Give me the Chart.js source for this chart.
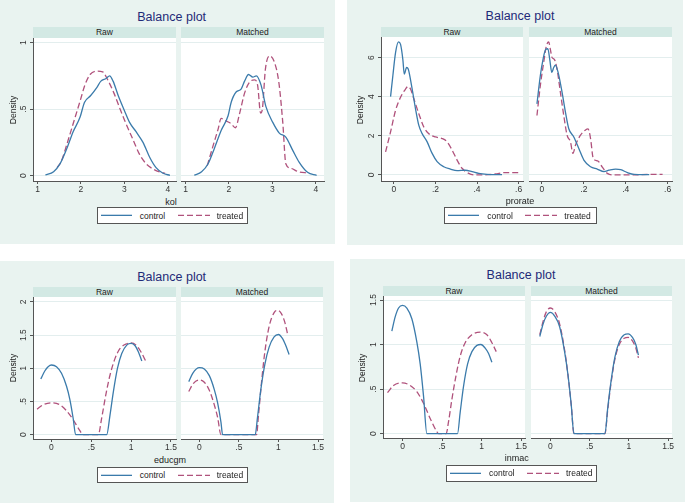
<!DOCTYPE html>
<html><head><meta charset="utf-8">
<script src="https://cdn.jsdelivr.net/npm/chart.js@4.4.0/dist/chart.umd.min.js"></script>
<style>
body{margin:0;width:685px;height:504px;background:#fff;position:relative;overflow:hidden;font-family:"Liberation Sans",Arial,sans-serif;}
.panel{position:absolute;background:#e9f3f0;}
.strip{position:absolute;background:#d3e9e4;color:#222;font-size:8.5px;text-align:center;}
.title{position:absolute;color:#1f2a78;font-size:12.5px;line-height:14px;text-align:center;width:200px;}
.xt{position:absolute;color:#222;font-size:9px;line-height:10px;text-align:center;width:100px;}
.dens{position:absolute;color:#222;font-size:8.5px;line-height:10px;text-align:center;width:60px;height:10px;transform:rotate(-90deg);}
.legend{position:absolute;background:#fff;border:1px solid #555;box-sizing:border-box;}
.legend span{position:absolute;font-size:8.5px;color:#222;}
.legend svg{position:absolute;left:0;top:0;}
</style>
</head><body>
<script>
// ---------- data ----------
const seriesNames = ['control', 'treated'];
const subplotNames = ['Raw', 'Matched'];

// kol
const kolTicksX = [1, 2, 3, 4];
const kolTickLabelsX = ['1', '2', '3', '4'];
const kolTicksY = [0, 0.5, 1];
const kolTickLabelsY = ['0', '.5', '1'];
const kolRawControl = [[1.18,0.005],[1.37,0.03],[1.52,0.09],[1.67,0.20],[1.82,0.33],[1.98,0.44],[2.08,0.55],[2.22,0.60],[2.36,0.66],[2.46,0.71],[2.58,0.73],[2.66,0.75],[2.74,0.71],[2.86,0.60],[3.0,0.49],[3.12,0.40],[3.27,0.33],[3.43,0.25],[3.58,0.14],[3.73,0.06],[3.89,0.018],[4.05,0.003]];
const kolRawTreated = [[1.45,0.06],[1.55,0.11],[1.67,0.23],[1.82,0.39],[1.98,0.56],[2.09,0.68],[2.21,0.76],[2.36,0.785],[2.5,0.78],[2.6,0.73],[2.76,0.62],[2.89,0.51],[3.0,0.42],[3.2,0.27],[3.35,0.16],[3.5,0.09],[3.66,0.05],[3.81,0.028],[3.94,0.018]];
const kolMatchedControl = [[1.2,0.003],[1.37,0.03],[1.52,0.09],[1.67,0.21],[1.82,0.34],[1.98,0.45],[2.05,0.55],[2.17,0.63],[2.28,0.65],[2.36,0.71],[2.45,0.76],[2.55,0.74],[2.63,0.75],[2.74,0.68],[2.85,0.52],[3.01,0.40],[3.16,0.32],[3.31,0.29],[3.47,0.19],[3.62,0.10],[3.81,0.025],[4.02,0.003]];
const kolMatchedTreated = [[1.5,0.075],[1.63,0.22],[1.75,0.35],[1.82,0.43],[1.94,0.41],[2.05,0.39],[2.15,0.36],[2.24,0.46],[2.36,0.62],[2.47,0.70],[2.59,0.72],[2.66,0.68],[2.73,0.47],[2.77,0.50],[2.84,0.80],[2.94,0.90],[3.05,0.85],[3.15,0.70],[3.24,0.40],[3.31,0.09],[3.43,0.055],[3.6,0.03],[3.82,0.02]];

// prorate
const proTicksX = [0, 0.2, 0.4, 0.6];
const proTickLabelsX = ['0', '.2', '.4', '.6'];
const proTicksY = [0, 2, 4, 6];
const proTickLabelsY = ['0', '2', '4', '6'];
const proRawControl = [[-0.016,4.0],[-0.005,5.07],[0.008,6.25],[0.022,6.8],[0.032,6.67],[0.043,5.91],[0.05,5.15],[0.061,5.49],[0.069,5.41],[0.085,4.56],[0.104,3.38],[0.12,2.53],[0.136,2.11],[0.16,1.69],[0.184,1.10],[0.208,0.68],[0.24,0.42],[0.272,0.30],[0.304,0.22],[0.344,0.24],[0.376,0.17],[0.408,0.08],[0.448,0.03],[0.488,0.02],[0.52,0.02]];
const proRawTreated = [[-0.04,1.18],[-0.016,2.2],[0.008,3.3],[0.032,3.97],[0.056,4.39],[0.067,4.51],[0.08,4.39],[0.096,3.89],[0.12,3.13],[0.144,2.45],[0.168,2.11],[0.2,1.94],[0.232,1.86],[0.256,1.69],[0.28,1.27],[0.304,0.76],[0.328,0.34],[0.36,0.08],[0.392,0.0],[0.44,0.0],[0.488,0.05],[0.536,0.12],[0.6,0.12]];
const proMatchedControl = [[-0.024,3.63],[-0.008,5.07],[0.005,5.91],[0.018,6.42],[0.028,6.45],[0.037,5.91],[0.047,5.24],[0.056,5.49],[0.064,5.61],[0.077,5.24],[0.096,4.22],[0.112,3.21],[0.128,2.36],[0.152,1.94],[0.176,1.35],[0.2,0.76],[0.232,0.42],[0.264,0.30],[0.296,0.17],[0.32,0.24],[0.352,0.30],[0.376,0.27],[0.408,0.12],[0.44,0.03],[0.488,0.02],[0.512,0.02]];
const proMatchedTreated = [[-0.024,3.04],[-0.008,4.56],[0.008,5.74],[0.021,6.59],[0.032,6.8],[0.04,6.42],[0.048,6.0],[0.059,5.91],[0.072,5.41],[0.088,4.22],[0.104,3.04],[0.12,2.03],[0.136,1.69],[0.148,1.10],[0.16,1.52],[0.184,2.03],[0.208,2.3],[0.22,2.35],[0.232,1.86],[0.245,0.84],[0.266,0.72],[0.288,0.40],[0.312,0.08],[0.344,0],[0.424,0],[0.52,0.03],[0.576,0.03]];

// educgm
const eduTicksX = [0, 0.5, 1, 1.5];
const eduTickLabelsX = ['0', '.5', '1', '1.5'];
const eduTicksY = [0, 0.5, 1, 1.5, 2];
const eduTickLabelsY = ['0', '.5', '1', '1.5', '2'];
const eduRawControl = [[-0.134,0.84],[-0.084,0.96],[-0.042,1.025],[0,1.05],[0.063,1.025],[0.126,0.925],[0.189,0.73],[0.231,0.53],[0.273,0.24],[0.303,0],[0.693,0],[0.735,0.30],[0.777,0.65],[0.828,1.0],[0.882,1.225],[0.945,1.35],[1.0,1.375],[1.05,1.34],[1.09,1.25],[1.134,1.11]];
const eduRawTreated = [[-0.181,0.385],[-0.105,0.45],[0,0.48],[0.105,0.45],[0.189,0.36],[0.273,0.225],[0.336,0.10],[0.4,0],[0.588,0],[0.63,0.25],[0.685,0.62],[0.735,0.90],[0.798,1.15],[0.861,1.30],[0.945,1.37],[1.0,1.385],[1.071,1.34],[1.134,1.225],[1.18,1.115]];
const eduMatchedControl = [[-0.134,0.80],[-0.084,0.925],[0,1.01],[0.063,0.99],[0.126,0.89],[0.189,0.68],[0.231,0.48],[0.273,0.19],[0.294,0],[0.706,0],[0.735,0.26],[0.777,0.68],[0.828,1.06],[0.882,1.32],[0.945,1.475],[1.0,1.51],[1.05,1.45],[1.09,1.35],[1.134,1.21]];
const eduMatchedTreated = [[-0.134,0.65],[-0.084,0.76],[0,0.825],[0.063,0.79],[0.126,0.67],[0.189,0.45],[0.231,0.26],[0.273,0],[0.723,0],[0.748,0.30],[0.786,0.79],[0.828,1.25],[0.882,1.63],[0.945,1.84],[0.99,1.875],[1.037,1.825],[1.079,1.70],[1.12,1.49]];

// inmac
const inmTicksX = [0, 0.5, 1, 1.5];
const inmTickLabelsX = ['0', '.5', '1', '1.5'];
const inmTicksY = [0, 0.5, 1, 1.5];
const inmTickLabelsY = ['0', '.5', '1', '1.5'];
const inmRawControl = [[-0.135,1.15],[-0.093,1.31],[-0.05,1.41],[0,1.44],[0.055,1.41],[0.118,1.29],[0.181,1.03],[0.224,0.78],[0.266,0.42],[0.308,0],[0.696,0],[0.73,0.24],[0.772,0.53],[0.823,0.78],[0.878,0.92],[0.941,0.99],[0.992,1.0],[1.046,0.96],[1.089,0.90],[1.131,0.80]];
const inmRawTreated = [[-0.19,0.46],[-0.114,0.54],[0,0.57],[0.097,0.54],[0.181,0.47],[0.266,0.34],[0.35,0.17],[0.435,0.02],[0.456,0],[0.553,0],[0.582,0.13],[0.624,0.38],[0.679,0.66],[0.73,0.87],[0.793,1.02],[0.878,1.11],[0.983,1.14],[1.068,1.11],[1.131,1.02],[1.186,0.92]];
const inmMatchedControl = [[-0.135,1.09],[-0.093,1.23],[-0.05,1.32],[0,1.36],[0.055,1.32],[0.118,1.20],[0.181,0.92],[0.224,0.66],[0.266,0.32],[0.30,0],[0.696,0],[0.73,0.28],[0.772,0.58],[0.823,0.86],[0.878,1.03],[0.941,1.11],[0.992,1.12],[1.046,1.08],[1.089,1.0],[1.122,0.88]];
const inmMatchedTreated = [[-0.135,1.11],[-0.093,1.26],[-0.05,1.37],[0,1.41],[0.055,1.37],[0.118,1.23],[0.181,0.94],[0.224,0.66],[0.266,0.32],[0.30,0],[0.696,0],[0.73,0.26],[0.772,0.56],[0.823,0.84],[0.878,1.0],[0.941,1.07],[0.992,1.08],[1.046,1.04],[1.089,0.96],[1.122,0.85]];

// ---------- layout ----------
const BLUE = '#3b7bab', RED = '#b0527c', AX = '#555', GRID = '#e3eeee';
const FONT = '"Liberation Sans", Arial, sans-serif';

const panels = [
  {bg:[0,0,335,244], title:[171.7,16.7], xName:'kol', xNamePos:[171,201.7], dens:[12.7,110], legend:[96.7,207.3,151.6,16.7],
   stripY:[27,38], raw:[33,176], matched:[181,324], plotY:[38,181], xRange:[0.895,4.19], yRange:[-0.04,1.034],
   xt:kolTicksX, xl:kolTickLabelsX, yt:kolTicksY, yl:kolTickLabelsY, data:[[kolRawControl,kolRawTreated],[kolMatchedControl,kolMatchedTreated]]},
  {bg:[347,0,336,245], title:[520,15.7], xName:'prorate', xNamePos:[520,200.7], dens:[360,110], legend:[444.3,207.3,152.4,16.7],
   stripY:[27,37], raw:[381,523], matched:[529,672], plotY:[37,181], xRange:[-0.062,0.621], yRange:[-0.31,7.05],
   xt:proTicksX, xl:proTickLabelsX, yt:proTicksY, yl:proTickLabelsY, data:[[proRawControl,proRawTreated],[proMatchedControl,proMatchedTreated]]},
  {bg:[0,261,334,242], title:[171.7,276.7], xName:'educgm', xNamePos:[170,460], dens:[12.7,368.3], legend:[96.7,466.7,151.6,16.7],
   stripY:[287,297], raw:[33,176], matched:[181,323], plotY:[297,439], xRange:[-0.232,1.563], yRange:[-0.065,2.075],
   xt:eduTicksX, xl:eduTickLabelsX, yt:eduTicksY, yl:eduTickLabelsY, data:[[eduRawControl,eduRawTreated],[eduMatchedControl,eduMatchedTreated]]},
  {bg:[350,259,335,243], title:[521,275], xName:'inmac', xNamePos:[516.7,458.3], dens:[361.7,368], legend:[446,465,150.7,16.7],
   stripY:[286,296], raw:[383,525], matched:[531,672], plotY:[296,438], xRange:[-0.247,1.55], yRange:[-0.05,1.545],
   xt:inmTicksX, xl:inmTickLabelsX, yt:inmTicksY, yl:inmTickLabelsY, data:[[inmRawControl,inmRawTreated],[inmMatchedControl,inmMatchedTreated]]}
];

function div(cls, l, t, w, h, text) {
  const d = document.createElement('div');
  d.className = cls;
  d.style.left = l + 'px'; d.style.top = t + 'px';
  if (w != null) d.style.width = w + 'px';
  if (h != null) d.style.height = h + 'px';
  if (text != null) d.textContent = text;
  document.body.appendChild(d);
  return d;
}

const plotBg = {
  id: 'plotBg',
  beforeDraw(chart) {
    const a = chart.chartArea, ctx = chart.ctx;
    ctx.save(); ctx.fillStyle = '#ffffff';
    ctx.fillRect(a.left, a.top, a.right - a.left, a.bottom - a.top);
    ctx.restore();
  }
};
const yRot = {
  id: 'yRot',
  afterDraw(chart, args, opts) {
    if (!opts || !opts.values) return;
    const s = chart.scales.y, ctx = chart.ctx;
    ctx.save();
    ctx.fillStyle = '#333'; ctx.font = '8.5px ' + FONT;
    ctx.textAlign = 'center'; ctx.textBaseline = 'middle';
    opts.values.forEach((v, i) => {
      ctx.save();
      ctx.translate(s.right - 9.5, s.getPixelForValue(v));
      ctx.rotate(-Math.PI / 2);
      ctx.fillText(opts.labels[i], 0, 0);
      ctx.restore();
    });
    ctx.restore();
  }
};

function makeSub(p, k) {
  const isRaw = k === 0;
  const [pl, pr] = isRaw ? p.raw : p.matched;
  const [pt, pb] = p.plotY;
  const LA = isRaw ? 16 : 0, RP = 6, TP = 6, BH = 16;
  const W = pr - pl + LA + RP, H = pb - pt + TP + BH;
  const c = document.createElement('canvas');
  c.width = W; c.height = H;
  c.style.cssText = `position:absolute;left:${pl - LA}px;top:${pt - TP}px;width:${W}px;height:${H}px;`;
  document.body.appendChild(c);
  const [ctrl, trt] = p.data[k];
  new Chart(c, {
    type: 'line',
    data: { datasets: [
      { label: seriesNames[0], data: ctrl.map(([x, y]) => ({x, y})), borderColor: BLUE, borderWidth: 1.3,
        pointRadius: 0, cubicInterpolationMode: 'monotone', fill: false },
      { label: seriesNames[1], data: trt.map(([x, y]) => ({x, y})), borderColor: RED, borderWidth: 1.3,
        borderDash: [6, 3], pointRadius: 0, cubicInterpolationMode: 'monotone', fill: false }
    ]},
    options: {
      responsive: false, animation: false, events: [],
      layout: { padding: { left: 0, right: RP, top: TP, bottom: 0 } },
      plugins: { legend: { display: false }, tooltip: { enabled: false },
        yRot: isRaw ? { values: p.yt, labels: p.yl } : false },
      scales: {
        x: { type: 'linear', min: p.xRange[0], max: p.xRange[1],
          afterBuildTicks: s => { s.ticks = p.xt.map(v => ({ value: v })); },
          afterFit: s => { s.height = BH; },
          grid: { drawOnChartArea: false, drawTicks: true, tickLength: 3, color: AX, tickColor: AX },
          border: { display: true, color: AX, width: 1 },
          ticks: { autoSkip: false, maxRotation: 0, padding: 1, color: '#333', font: { size: 8.5, family: FONT },
            callback: (v, i) => p.xl[i] } },
        y: { type: 'linear', min: p.yRange[0], max: p.yRange[1],
          afterBuildTicks: s => { s.ticks = p.yt.map(v => ({ value: v })); },
          afterFit: s => { s.width = LA; },
          grid: { color: GRID, tickColor: AX, drawTicks: isRaw, tickLength: 3 },
          border: { display: isRaw, color: AX, width: 1 },
          ticks: { display: false } }
      }
    },
    plugins: [plotBg, yRot]
  });
}

panels.forEach(p => {
  div('panel', p.bg[0], p.bg[1], p.bg[2], p.bg[3]);
  div('title', p.title[0] - 100, p.title[1] - 7, 200, 14, 'Balance plot');
  [p.raw, p.matched].forEach((r, k) => {
    const s = div('strip', r[0], p.stripY[0], r[1] - r[0], p.stripY[1] - p.stripY[0], subplotNames[k]);
    s.style.lineHeight = (p.stripY[1] - p.stripY[0]) + 'px';
  });
  makeSub(p, 0); makeSub(p, 1);
  div('dens', p.dens[0] - 30, p.dens[1] - 5, 60, 10, 'Density');
  div('xt', p.xNamePos[0] - 50, p.xNamePos[1] - 5, 100, 10, p.xName);
  const [lx, ly, lw, lh] = p.legend;
  const lg = div('legend', lx, ly, lw, lh);
  const mid = lh / 2 - 1;
  lg.innerHTML = `<svg width="${lw}" height="${lh}">
    <line x1="3" y1="${mid}" x2="34" y2="${mid}" stroke="${BLUE}" stroke-width="1.3"/>
    <line x1="80" y1="${mid}" x2="112" y2="${mid}" stroke="${RED}" stroke-width="1.3" stroke-dasharray="6,3"/>
  </svg>
  <span style="left:42px;top:${mid - 5}px;line-height:10px">${seriesNames[0]}</span>
  <span style="left:119px;top:${mid - 5}px;line-height:10px">${seriesNames[1]}</span>`;
});
</script>
</body></html>
